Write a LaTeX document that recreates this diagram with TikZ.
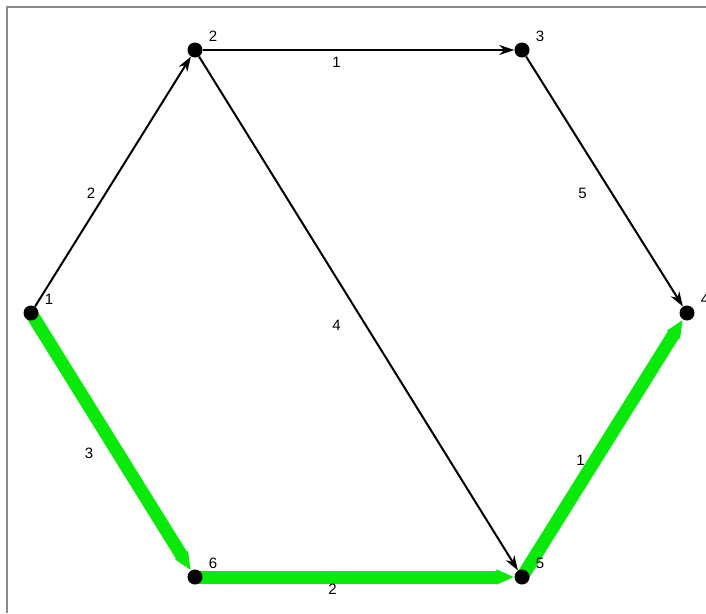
\documentclass[tikz,border=0pt]{standalone}
\usepackage{fontspec}
\setmainfont{Liberation Sans}
\usepackage{tikz}
\usetikzlibrary{arrows.meta,backgrounds}
\definecolor{INK}{HTML}{000000}
\definecolor{PATH}{HTML}{0AEA0A}
\definecolor{FRAME}{HTML}{8A8A8A}

\begin{document}
\begin{tikzpicture}[x=1pt,y=-1pt]
\tikzset{vtx/.style={circle,fill=INK,inner sep=0pt,minimum size=15pt},
 nlbl/.style={font=\fontsize{15}{17}\selectfont,inner sep=0pt,xshift=18pt,yshift=14pt},
 elbl/.style={font=\fontsize{15}{17}\selectfont,text=INK,inner sep=0pt,xshift=-22pt,yshift=-12pt},
 arc/.style={-{Stealth[length=15pt,width=10pt]},line width=2pt,INK},
 best/.style={-{Triangle[length=18pt,width=14pt]},line width=13pt,PATH}}
\useasboundingbox (0,0) rectangle (706,613);
\draw[FRAME,line width=2pt] (7,613) -- (7,7) -- (706,7);
\node[vtx,label={[nlbl]center:1}] (n1) at (31,313) {};
\node[vtx,label={[nlbl]center:2}] (n2) at (195,50) {};
\node[vtx,label={[nlbl]center:3}] (n3) at (522,50) {};
\node[vtx,label={[nlbl]center:4}] (n4) at (687,313) {};
\node[vtx,label={[nlbl]center:5}] (n5) at (522,577) {};
\node[vtx,label={[nlbl]center:6}] (n6) at (195,577) {};
\begin{scope}[on background layer]
\draw[arc] (n1) -- node[elbl]{2} (n2);
\draw[arc] (n2) -- node[elbl]{1} (n3);
\draw[arc] (n3) -- node[elbl]{5} (n4);
\draw[arc] (n2) -- node[elbl]{4} (n5);
\draw[best] (n1.center) -- node[elbl]{3} (n6);
\draw[best] (n6.center) -- node[elbl]{2} (n5);
\draw[best] (n5.center) -- node[elbl]{1} (n4);
\end{scope}
\end{tikzpicture}
\end{document}
